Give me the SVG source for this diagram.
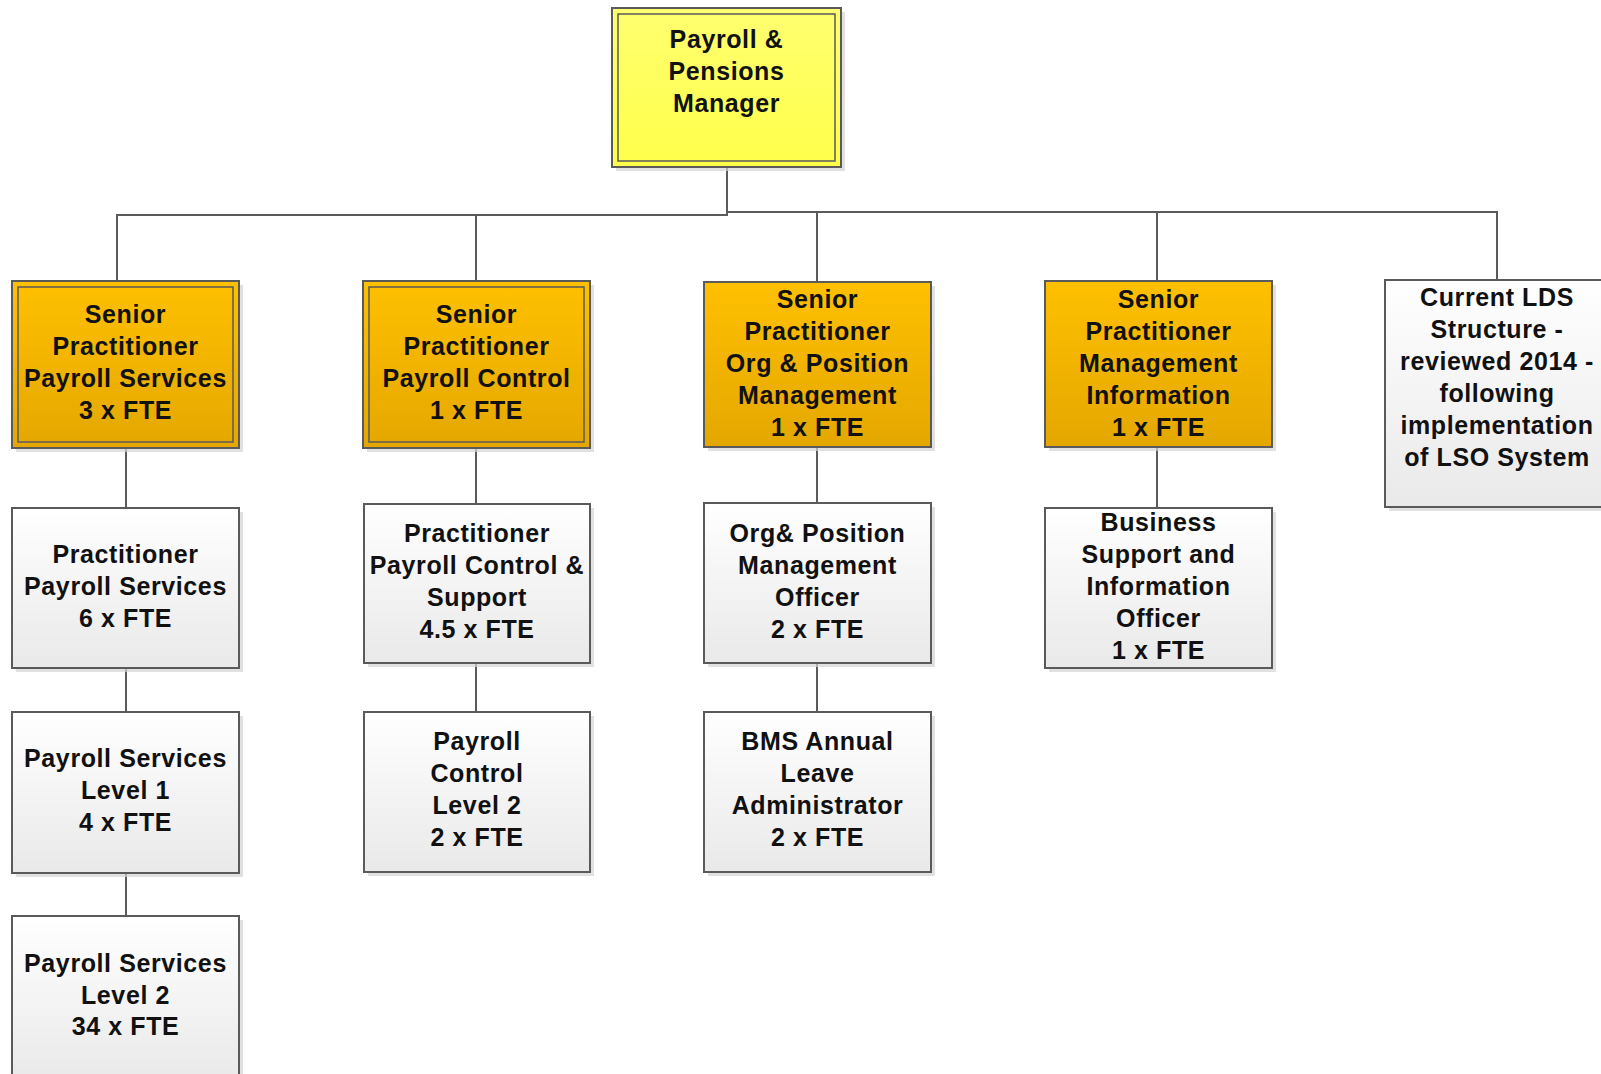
<svg xmlns="http://www.w3.org/2000/svg" width="1601" height="1074" viewBox="0 0 1601 1074">
<defs>
<linearGradient id="gOr" x1="0" y1="0" x2="0" y2="1"><stop offset="0" stop-color="#ffc000"/><stop offset="1" stop-color="#e4a700"/></linearGradient>
<linearGradient id="gWh" x1="0" y1="0" x2="0" y2="1"><stop offset="0" stop-color="#ffffff"/><stop offset="1" stop-color="#e9e9e9"/></linearGradient>
<linearGradient id="gYe" x1="0" y1="0" x2="0" y2="1"><stop offset="0" stop-color="#ffff70"/><stop offset="1" stop-color="#ffff4a"/></linearGradient>
<style>
.sh{fill:#d4d4d4;opacity:0.7}
.box{stroke:#5a5a5a;stroke-width:2}
.inner{fill:none;stroke:#5a5a5a;stroke-width:1.5}
.or{fill:url(#gOr)}
.wh{fill:url(#gWh)}
.ye{fill:url(#gYe)}
text{font-family:"Liberation Sans",Arial,sans-serif;font-weight:bold;font-size:25px;fill:#111;text-anchor:middle;letter-spacing:0.6px}
.c{fill:none;stroke:#5a5a5a;stroke-width:2}
</style>
</defs>
<g id="connectors">
<path class="c" d="M727 167V215H117V281"/>
<path class="c" d="M476 215V281"/>
<path class="c" d="M727 212H1497V280"/>
<path class="c" d="M817 212V282"/>
<path class="c" d="M1157 212V281"/>
<path class="c" d="M126 448V508M126 668V712M126 873V916"/>
<path class="c" d="M476 448V504M476 663V712"/>
<path class="c" d="M817 447V503M817 663V712"/>
<path class="c" d="M1157 447V508"/>
</g>
<g id="n-manager">
<rect class="sh" x="616" y="12" width="229" height="159"/>
<rect class="box ye" x="612" y="8" width="229" height="159"/>
<rect class="inner" x="618" y="14" width="217" height="147"/>
<text x="726.5" y="48">Payroll &amp;</text>
<text x="726.5" y="80">Pensions</text>
<text x="726.5" y="112">Manager</text>
</g>
<g id="n-sps">
<rect class="sh" x="16" y="285" width="227" height="167"/>
<rect class="box or" x="12" y="281" width="227" height="167"/>
<rect class="inner" x="18" y="287" width="215" height="155"/>
<text x="125.5" y="323">Senior</text>
<text x="125.5" y="355">Practitioner</text>
<text x="125.5" y="387">Payroll Services</text>
<text x="125.5" y="419">3 x FTE</text>
</g>
<g id="n-spc">
<rect class="sh" x="367" y="285" width="227" height="167"/>
<rect class="box or" x="363" y="281" width="227" height="167"/>
<rect class="inner" x="369" y="287" width="215" height="155"/>
<text x="476.5" y="323">Senior</text>
<text x="476.5" y="355">Practitioner</text>
<text x="476.5" y="387">Payroll Control</text>
<text x="476.5" y="419">1 x FTE</text>
</g>
<g id="n-sop">
<rect class="sh" x="708" y="286" width="227" height="165"/>
<rect class="box or" x="704" y="282" width="227" height="165"/>
<text x="817.5" y="308">Senior</text>
<text x="817.5" y="340">Practitioner</text>
<text x="817.5" y="372">Org &amp; Position</text>
<text x="817.5" y="404">Management</text>
<text x="817.5" y="436">1 x FTE</text>
</g>
<g id="n-smi">
<rect class="sh" x="1049" y="285" width="227" height="166"/>
<rect class="box or" x="1045" y="281" width="227" height="166"/>
<text x="1158.5" y="308">Senior</text>
<text x="1158.5" y="340">Practitioner</text>
<text x="1158.5" y="372">Management</text>
<text x="1158.5" y="404">Information</text>
<text x="1158.5" y="436">1 x FTE</text>
</g>
<g id="n-lds">
<rect class="sh" x="1389" y="284" width="224" height="227"/>
<rect class="box wh" x="1385" y="280" width="224" height="227"/>
<text x="1497" y="306">Current LDS</text>
<text x="1497" y="338">Structure -</text>
<text x="1497" y="370">reviewed 2014 -</text>
<text x="1497" y="402">following</text>
<text x="1497" y="434">implementation</text>
<text x="1497" y="466">of LSO System</text>
</g>
<g id="n-pps">
<rect class="sh" x="16" y="512" width="227" height="160"/>
<rect class="box wh" x="12" y="508" width="227" height="160"/>
<text x="125.5" y="563">Practitioner</text>
<text x="125.5" y="595">Payroll Services</text>
<text x="125.5" y="627">6 x FTE</text>
</g>
<g id="n-ppc">
<rect class="sh" x="368" y="508" width="226" height="159"/>
<rect class="box wh" x="364" y="504" width="226" height="159"/>
<text x="477" y="542">Practitioner</text>
<text x="477" y="574">Payroll Control &amp;</text>
<text x="477" y="606">Support</text>
<text x="477" y="638">4.5 x FTE</text>
</g>
<g id="n-opo">
<rect class="sh" x="708" y="507" width="227" height="160"/>
<rect class="box wh" x="704" y="503" width="227" height="160"/>
<text x="817.5" y="542">Org&amp; Position</text>
<text x="817.5" y="574">Management</text>
<text x="817.5" y="606">Officer</text>
<text x="817.5" y="638">2 x FTE</text>
</g>
<g id="n-bsi">
<rect class="sh" x="1049" y="512" width="227" height="160"/>
<rect class="box wh" x="1045" y="508" width="227" height="160"/>
<text x="1158.5" y="531">Business</text>
<text x="1158.5" y="563">Support and</text>
<text x="1158.5" y="595">Information</text>
<text x="1158.5" y="627">Officer</text>
<text x="1158.5" y="659">1 x FTE</text>
</g>
<g id="n-ps1">
<rect class="sh" x="16" y="716" width="227" height="161"/>
<rect class="box wh" x="12" y="712" width="227" height="161"/>
<text x="125.5" y="767">Payroll Services</text>
<text x="125.5" y="799">Level 1</text>
<text x="125.5" y="831">4 x FTE</text>
</g>
<g id="n-pc2">
<rect class="sh" x="368" y="716" width="226" height="160"/>
<rect class="box wh" x="364" y="712" width="226" height="160"/>
<text x="477" y="750">Payroll</text>
<text x="477" y="782">Control</text>
<text x="477" y="814">Level 2</text>
<text x="477" y="846">2 x FTE</text>
</g>
<g id="n-bms">
<rect class="sh" x="708" y="716" width="227" height="160"/>
<rect class="box wh" x="704" y="712" width="227" height="160"/>
<text x="817.5" y="750">BMS Annual</text>
<text x="817.5" y="782">Leave</text>
<text x="817.5" y="814">Administrator</text>
<text x="817.5" y="846">2 x FTE</text>
</g>
<g id="n-ps2">
<rect class="sh" x="16" y="920" width="227" height="165"/>
<rect class="box wh" x="12" y="916" width="227" height="165"/>
<text x="125.5" y="972">Payroll Services</text>
<text x="125.5" y="1004">Level 2</text>
<text x="125.5" y="1035">34 x FTE</text>
</g>
</svg>
